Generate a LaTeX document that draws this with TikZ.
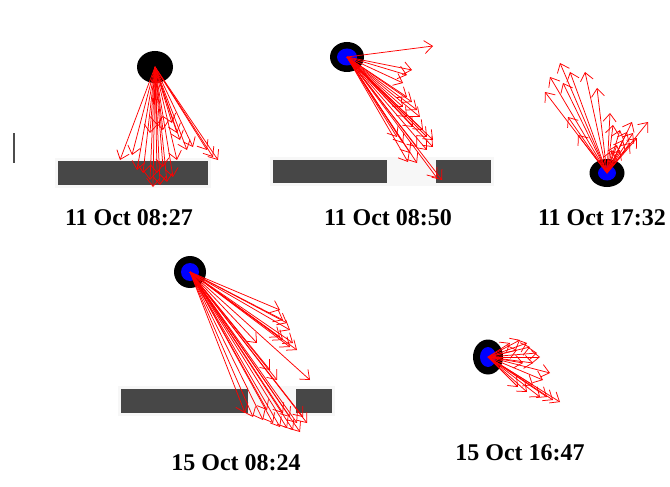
\documentclass[tikz,border=0pt]{standalone}
\usepackage{fontspec}
\setmainfont{Liberation Serif}
\usetikzlibrary{arrows.meta,shapes.geometric}

\begin{document}
\begin{tikzpicture}[x=1pt,y=-1pt,
		ball/.style={ellipse, fill=black, inner sep=0pt},
		core/.style={ellipse, fill=blue, inner sep=0pt},
		bar/.style={fill=black!72},
		halo/.style={fill=black!3},
		vec/.style={draw=red, line width=0.75pt, -{Straight Barb[length=8pt,width=13pt]}},
		stamp/.style={font=\bfseries\fontsize{24}{26}\selectfont, anchor=base}]
		\useasboundingbox (0,0) rectangle (670,487);
		
		% small mark at the left
		\draw[line width=1.2pt, black!70] (14,133) -- (14,163);
		
		% bars
		\fill[halo] (55,158) rectangle (211,188);
		\fill[bar] (58,161) rectangle (208,185);
		\fill[halo] (270,157) rectangle (494,186);
		\fill[bar] (273,160) rectangle (387,183);
		\fill[bar] (436,160) rectangle (491,183);
		\fill[halo] (118,386) rectangle (335,416);
		\fill[bar] (121,389) rectangle (248,413);
		\fill[bar] (296,389) rectangle (332,413);
		
		% balls
		\node[ball, minimum width=36pt, minimum height=32pt] (b1) at (155,67) {};
		\node[ball, minimum width=34pt, minimum height=30pt] (b2) at (347,57) {};
		\node[core, minimum width=20pt, minimum height=17pt] at (b2) {};
		\node[ball, minimum width=35pt, minimum height=28pt] (b3) at (607,173) {};
		\node[core, minimum width=18pt, minimum height=15pt] at (b3) {};
		\node[ball, minimum width=32pt, minimum height=32pt] (b4) at (190,272) {};
		\node[core, minimum width=18pt, minimum height=18pt] at (b4) {};
		\node[ball, minimum width=30pt, minimum height=35pt] (b5) at (488,357) {};
		\node[core, minimum width=16pt, minimum height=20pt] at (b5) {};
		
		% vectors
		\foreach \x/\y in {120/160, 132/155, 150/133, 157/125, 163/130, 172/123, 177/133,
			180/140, 187/150, 193/147, 207/150, 213/157, 218/160, 150/180, 153/187,
			160/185, 167/182, 143/173, 173/177, 137/170, 157/173, 163/167, 177/160}
			\draw[vec] (b1.center) -- (\x,\y);
		\foreach \x/\y in {433/46, 412/70, 407/75, 403/83, 407/97, 412/102, 417/110,
			403/107, 420/117, 413/127, 423/130, 427/137, 433/140, 417/147, 403/143,
			427/150, 410/153, 417/163, 408/162, 433/147, 442/180, 437/178, 397/137, 407/117}
			\draw[vec] (b2.center) -- (\x,\y);
		\foreach \x/\y in {560/63, 550/77, 545/92, 570/72, 585/72, 563/83, 568/117,
			578/135, 597/88, 610/113, 613/125, 632/122, 648/122, 620/130, 627/132,
			633/133, 623/140, 630/143, 617/145, 637/138, 612/150, 620/150}
			\draw[vec] (b3.center) -- (\x,\y);
		\foreach \x/\y in {280/310, 283/320, 287/323, 290/330, 293/343, 297/350,
			280/337, 283/340, 290/347, 310/380, 257/343, 270/370, 277/380, 245/413,
			253/417, 263/420, 273/423, 280/427, 287/428, 293/430, 300/432, 307/423,
			297/423, 283/413, 290/417, 267/410, 303/417}
			\draw[vec] (b4.center) -- (\x,\y);
		\foreach \x/\y in {560/402, 553/400, 547/397, 540/397, 527/392, 518/387,
			533/385, 550/373, 540/357, 537/353, 530/347, 520/340, 527/343, 517/350,
			510/343, 533/363, 523/363, 543/380}
			\draw[vec] (b5.center) -- (\x,\y);
		
		% time stamps
		\node[stamp] (t1) at (129,225) {11 Oct 08:27};
		\node[stamp] (t2) at (388,225) {11 Oct 08:50};
		\node[stamp] (t3) at (602,225) {11 Oct 17:32};
		\node[stamp] (t4) at (236,470) {15 Oct 08:24};
		\node[stamp] (t5) at (520,460) {15 Oct 16:47};
	\end{tikzpicture}
\end{document}
